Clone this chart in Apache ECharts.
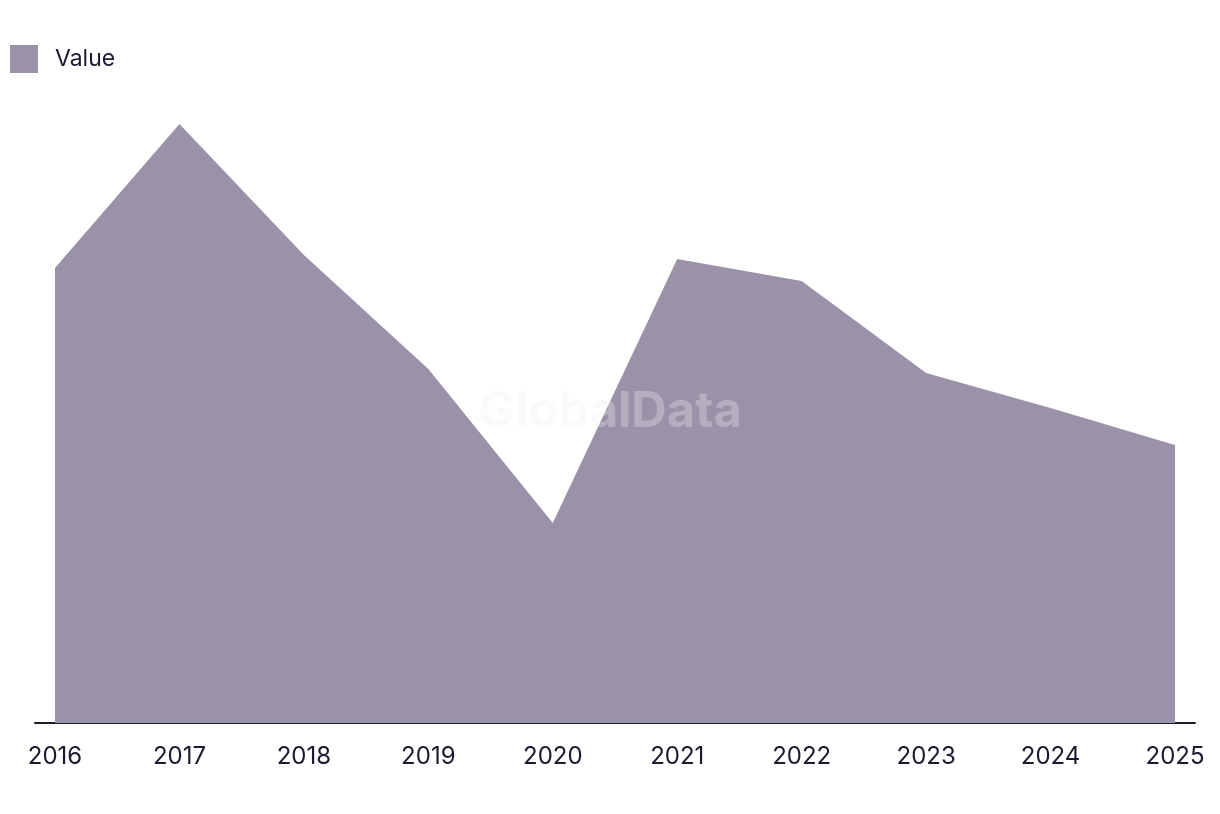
<!DOCTYPE html>
<html>
<head>
<meta charset="utf-8">
<script src="https://cdn.jsdelivr.net/npm/echarts@6/dist/echarts.min.js"></script>
<style>html,body{margin:0;padding:0;background:#fff}#c{width:1220px;height:814px}</style>
</head>
<body>
<div id="c"></div>
<script>
var years = [2016, 2017, 2018, 2019, 2020, 2021, 2022, 2023, 2024, 2025];
var values = [455, 599, 468, 354, 200, 464, 442, 350, 315, 278];
var seriesName = 'Value';

var chart = echarts.init(document.getElementById('c'));
var font = 'Inter, Roboto, sans-serif';
chart.setOption({
  animation: false,
  backgroundColor: '#ffffff',
  legend: {
    left: 5, top: 40, icon: 'rect', itemWidth: 28, itemHeight: 28,
    textStyle: { fontFamily: font, fontSize: 23, color: '#1b1a2e', padding: [0, 0, 0, 12] },
    data: [seriesName]
  },
  grid: { left: 35, right: 25, top: 123, bottom: 91, containLabel: false },
  xAxis: {
    type: 'value', min: 2015.8393, max: 2025.1607,
    axisLine: { show: true, lineStyle: { color: '#1b1a2e', width: 2 } },
    axisTick: { show: false },
    splitLine: { show: false },
    axisLabel: {
      customValues: years, margin: 22, fontFamily: font, fontSize: 24, color: '#1b1a2e',
      formatter: function (v) { return String(Math.round(v)); }
    }
  },
  yAxis: { type: 'value', min: 0, max: 600, show: false, splitLine: { show: false } },
  graphic: [{
    type: 'text', left: 'center', top: 388, z: 100,
    style: { text: 'GlobalData', font: 'bold 49px ' + font, fill: 'rgba(240,240,240,0.3)' }
  }],
  series: [{
    name: seriesName, type: 'line', symbol: 'none',
    data: years.map(function (y, i) { return [y, values[i]]; }),
    lineStyle: { width: 0 },
    itemStyle: { color: '#9b92aa' },
    areaStyle: { color: '#9b92aa', opacity: 1 }
  }]
});
</script>
</body>
</html>
